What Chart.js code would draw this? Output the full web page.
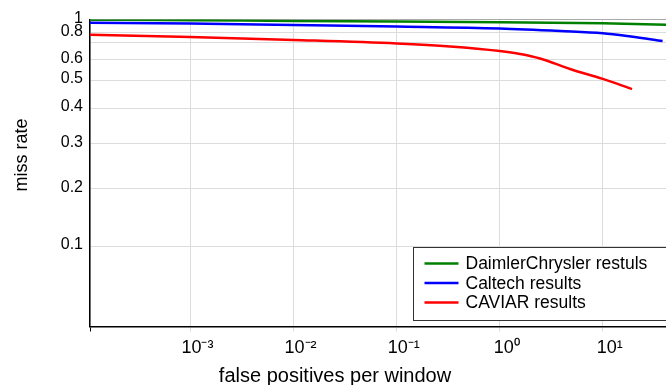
<!DOCTYPE html>
<html>
<head>
<meta charset="utf-8">
<script src="https://cdn.jsdelivr.net/npm/chart.js@4.4.0/dist/chart.umd.min.js"></script>
<style>
html,body{margin:0;padding:0;background:#fff;overflow:hidden}
#wrap{width:666px;height:385px;position:relative}
</style>
</head>
<body>
<div id="wrap"><canvas id="c" width="666" height="385"></canvas></div>
<script>
// ---- data ----
const seriesNames = ['DaimlerChrysler restuls', 'Caltech results', 'CAVIAR results'];
const seriesColors = ['#008000', '#0000ff', '#ff0000'];

const daimlerFppw = [1.06e-4, 1e-3, 1e-2, 1e-1, 1, 10, 41];
const daimlerMiss = [0.997, 0.988, 0.975, 0.966, 0.954, 0.938, 0.916];

const caltechFppw = [1.06e-4, 1e-3, 1e-2, 1e-1, 1, 3.9, 10, 18.7, 38];
const caltechMiss = [0.947, 0.935, 0.911, 0.888, 0.859, 0.823, 0.794, 0.760, 0.716];

const caviarFppw = [1.06e-4, 1e-3, 1e-2, 1e-1, 0.33, 1, 1.58, 2.46, 4.8, 10, 19.2];
const caviarMiss = [0.779, 0.755, 0.726, 0.695, 0.677, 0.650, 0.633, 0.608, 0.553, 0.505, 0.465];

const xTickValues = [1e-3, 1e-2, 1e-1, 1, 10];
const xTickLabels = ['10⁻³', '10⁻²', '10⁻¹', '10⁰', '10¹'];
const yTickValues = [1, 0.8, 0.7, 0.6, 0.5, 0.4, 0.3, 0.2, 0.1];
const yTickLabels = ['1', '0.8', '', '0.6', '0.5', '0.4', '0.3', '0.2', '0.1'];

const xTitle = 'false positives per window';
const yTitle = 'miss rate';

const xMin = 1.06e-4, xMax = 41;
const yMin = 0.038, yMax = 1;

// ---- calibrated (non-uniform) log scale for the miss-rate axis ----
const yAxisCalib = [[0.038, 0], [0.1, 0.2622], [0.2, 0.4495], [0.3, 0.5961], [0.4, 0.7117],
  [0.5, 0.8029], [0.6, 0.8681], [0.7, 0.9244], [0.8, 0.9570], [1, 1]];
function calibDecimal(v) {
  const lv = Math.log10(v);
  const k = yAxisCalib;
  let i = 0;
  while (i < k.length - 2 && lv > Math.log10(k[i + 1][0])) i++;
  const a = Math.log10(k[i][0]), b = Math.log10(k[i + 1][0]);
  return k[i][1] + (lv - a) / (b - a) * (k[i + 1][1] - k[i][1]);
}
function calibValue(d) {
  const k = yAxisCalib;
  let i = 0;
  while (i < k.length - 2 && d > k[i + 1][1]) i++;
  const a = Math.log10(k[i][0]), b = Math.log10(k[i + 1][0]);
  return Math.pow(10, a + (d - k[i][1]) / (k[i + 1][1] - k[i][1]) * (b - a));
}
class CalibratedLogScale extends Chart.LogarithmicScale {
  getPixelForValue(value) {
    if (value === undefined || value === 0) value = this.min;
    if (value === null || isNaN(value)) return NaN;
    return this.getPixelForDecimal(calibDecimal(value));
  }
  getValueForPixel(pixel) {
    return calibValue(this.getDecimalForPixel(pixel));
  }
}
CalibratedLogScale.id = 'calibratedLog';
CalibratedLogScale.defaults = Chart.LogarithmicScale.defaults;
Chart.register(CalibratedLogScale);

const FONT = '"Liberation Sans", Arial, sans-serif';

function pts(xs, ys) { return xs.map((x, i) => ({x: x, y: ys[i]})); }

const decor = {
  id: 'decor',
  afterDatasetsDraw(chart) {
    const ctx = chart.ctx, a = chart.chartArea;
    ctx.save();
    const bx = Math.round(a.right - 253) + 0.5, by = Math.round(a.bottom - 79.5) + 0.5;
    const bw = 270, bh = 73;
    ctx.fillStyle = '#fff';
    ctx.fillRect(bx, by, bw, bh);
    ctx.strokeStyle = '#333';
    ctx.lineWidth = 1;
    ctx.strokeRect(bx, by, bw, bh);
    ctx.font = '17.5px ' + FONT;
    ctx.textBaseline = 'middle';
    ctx.textAlign = 'left';
    chart.data.datasets.forEach((ds, i) => {
      const y = by + 16 + i * 19.5;
      ctx.strokeStyle = ds.borderColor;
      ctx.lineWidth = 2.5;
      ctx.beginPath();
      ctx.moveTo(bx + 11, y);
      ctx.lineTo(bx + 45, y);
      ctx.stroke();
      ctx.fillStyle = '#000';
      ctx.fillText(ds.label, bx + 52, y + 1);
    });
    ctx.restore();
  },
  afterDraw(chart) {
    const ctx = chart.ctx;
    ctx.save();
    ctx.fillStyle = '#000';
    ctx.font = '20px ' + FONT;
    ctx.textAlign = 'center';
    ctx.textBaseline = 'alphabetic';
    ctx.fillText(xTitle, 335, 382);
    ctx.translate(26.5, 155);
    ctx.rotate(-Math.PI / 2);
    ctx.font = '18px ' + FONT;
    ctx.fillText(yTitle, 0, 0);
    ctx.restore();
  }
};

new Chart(document.getElementById('c'), {
  type: 'line',
  data: {
    datasets: [
      {label: seriesNames[0], data: pts(daimlerFppw, daimlerMiss), borderColor: seriesColors[0]},
      {label: seriesNames[1], data: pts(caltechFppw, caltechMiss), borderColor: seriesColors[1]},
      {label: seriesNames[2], data: pts(caviarFppw, caviarMiss), borderColor: seriesColors[2]}
    ].map(d => Object.assign(d, {borderWidth: 2.5, pointRadius: 0, fill: false, cubicInterpolationMode: 'monotone'}))
  },
  options: {
    responsive: false,
    animation: false,
    devicePixelRatio: 1,
    layout: {padding: {top: 19.5, right: 0, bottom: 0, left: 0}},
    plugins: {legend: {display: false}, tooltip: {enabled: false}},
    scales: {
      x: {
        type: 'logarithmic',
        position: 'bottom',
        min: xMin, max: xMax,
        afterBuildTicks: s => { s.ticks = [xMin].concat(xTickValues).map(v => ({value: v})); },
        afterFit: s => { s.height = 58.5; },
        border: {display: true, color: '#000', width: 1.5},
        grid: {
          color: '#dcdcdc', lineWidth: 1, drawTicks: true, tickLength: 5,
          tickColor: c => (c.index === 0 ? '#000' : '#dcdcdc')
        },
        ticks: {
          autoSkip: false, maxRotation: 0, padding: 6, labelOffset: 7,
          color: '#000', font: {family: FONT, size: 18},
          callback: (v) => { const i = xTickValues.indexOf(v); return i < 0 ? '' : xTickLabels[i]; }
        }
      },
      y: {
        type: 'calibratedLog',
        position: 'left',
        min: yMin, max: yMax,
        afterBuildTicks: s => { s.ticks = yTickValues.map(v => ({value: v})); },
        afterFit: s => { s.width = 90; },
        border: {display: true, color: '#000', width: 1.5},
        grid: {
          color: c => (c.tick && c.tick.value === 1 ? '#aaaaaa' : '#dcdcdc'),
          lineWidth: 1, drawTicks: false
        },
        ticks: {
          autoSkip: false, padding: 7, labelOffset: -1,
          color: '#000', font: {family: FONT, size: 16},
          callback: (v, i) => yTickLabels[i]
        }
      }
    }
  },
  plugins: [decor]
});
</script>
</body>
</html>
